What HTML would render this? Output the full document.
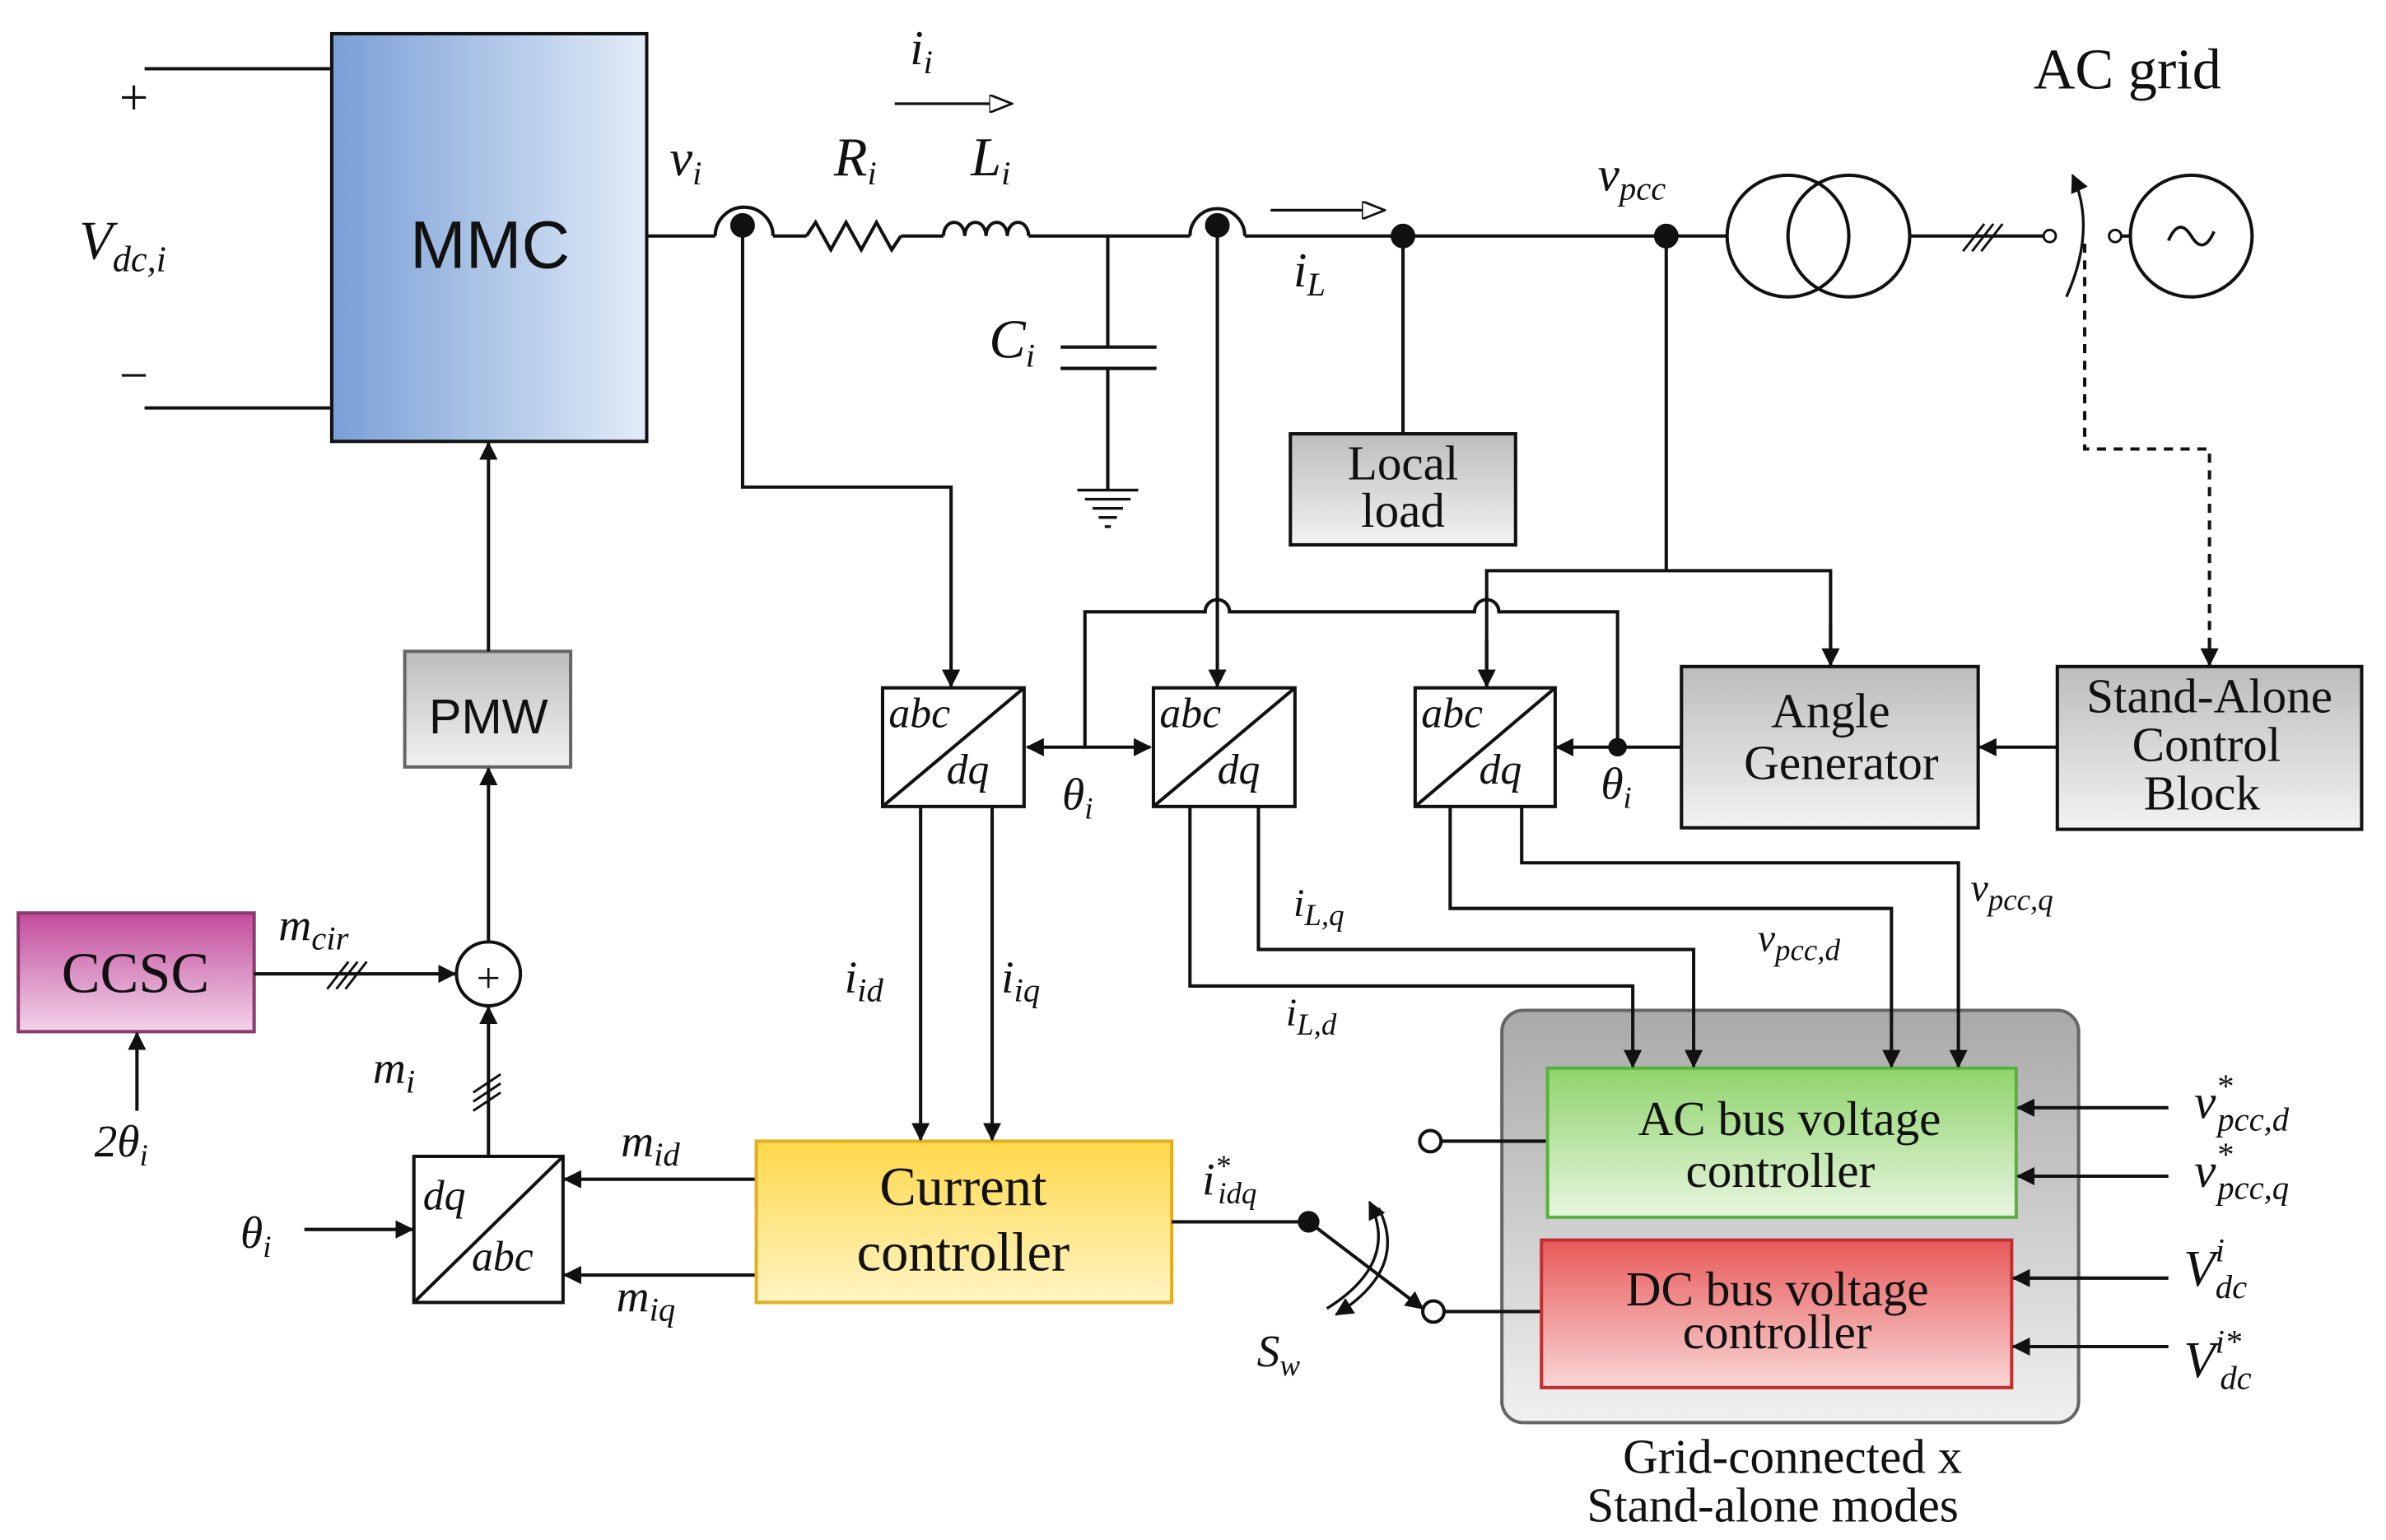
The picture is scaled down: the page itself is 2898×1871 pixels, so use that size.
<!DOCTYPE html>
<html><head><meta charset="utf-8"><style>
html,body{margin:0;padding:0;background:#fff;}
svg{display:block;}
text{font-family:"Liberation Serif",serif;fill:#111;}
.it{font-style:italic;}
.sans{font-family:"Liberation Sans",sans-serif;}
</style></head><body>
<svg width="2898" height="1871" viewBox="0 0 1568 1012" xmlns="http://www.w3.org/2000/svg">
<defs>
<linearGradient id="gB" x1="0" x2="1"><stop offset="0" stop-color="#7a9fd6"/><stop offset="1" stop-color="#e2ecf8"/></linearGradient>
<linearGradient id="gG" x1="0" y1="0" x2="0" y2="1"><stop offset="0" stop-color="#bdbdbd"/><stop offset="1" stop-color="#f2f2f2"/></linearGradient>
<linearGradient id="gP" x1="0" y1="0" x2="0" y2="1"><stop offset="0" stop-color="#c24d9c"/><stop offset="1" stop-color="#f3d4ea"/></linearGradient>
<linearGradient id="gY" x1="0" y1="0" x2="0" y2="1"><stop offset="0" stop-color="#ffd84a"/><stop offset="1" stop-color="#fff4c4"/></linearGradient>
<linearGradient id="gGr" x1="0" y1="0" x2="0" y2="1"><stop offset="0" stop-color="#8fd46c"/><stop offset="1" stop-color="#e8f6e0"/></linearGradient>
<linearGradient id="gR" x1="0" y1="0" x2="0" y2="1"><stop offset="0" stop-color="#e85a5a"/><stop offset="1" stop-color="#f9d6d6"/></linearGradient>
<linearGradient id="gBig" x1="0" y1="0" x2="0" y2="1"><stop offset="0" stop-color="#a9a9a9"/><stop offset="1" stop-color="#f0f0f0"/></linearGradient>
<marker id="a" markerWidth="12" markerHeight="12" refX="11" refY="6" orient="auto" markerUnits="userSpaceOnUse"><path d="M0,0 L12,6 L0,12 z" fill="#111"/></marker>
<marker id="as" markerWidth="12" markerHeight="12" refX="1" refY="6" orient="auto" markerUnits="userSpaceOnUse"><path d="M12,0 L0,6 L12,12 z" fill="#111"/></marker>
<marker id="ao" markerWidth="16" markerHeight="12" refX="15" refY="6" orient="auto" markerUnits="userSpaceOnUse"><path d="M0,0 L15,6 L0,12 z" fill="#fff" stroke="#111" stroke-width="1.5"/></marker>
</defs>
<g stroke="#111" stroke-width="2.2" fill="none">
<rect x="987" y="664" width="379" height="271" rx="14" fill="url(#gBig)" stroke="#666"/>
<line x1="95" y1="45" x2="218" y2="45"/><line x1="95" y1="268" x2="218" y2="268"/>
<rect x="218" y="22" width="207" height="268" fill="url(#gB)"/>
<rect x="266" y="428" width="109" height="76" fill="url(#gG)" stroke="#666"/>
<line x1="321" y1="428" x2="321" y2="291" marker-end="url(#a)"/>
<line x1="321" y1="619" x2="321" y2="505" marker-end="url(#a)"/>
<circle cx="321" cy="640" r="21" fill="#fff"/>
<rect x="12" y="600" width="155" height="78" fill="url(#gP)" stroke="#8a3a70"/>
<line x1="167" y1="640" x2="299" y2="640" marker-end="url(#a)"/>
<path d="M215,650 l14,-18 M221,650 l14,-18 M227,650 l14,-18" stroke-width="1.6"/>
<line x1="90" y1="730" x2="90" y2="679" marker-end="url(#a)"/>
<rect x="272" y="760" width="98" height="96" fill="#fff"/>
<line x1="272" y1="856" x2="370" y2="760"/>
<line x1="321" y1="760" x2="321" y2="662" marker-end="url(#a)"/>
<path d="M311,718 l18,-12 M311,724 l18,-12 M311,730 l18,-12" stroke-width="1.6"/>
<line x1="200" y1="808" x2="271" y2="808" marker-end="url(#a)"/>
<line x1="497" y1="775" x2="371" y2="775" marker-end="url(#a)"/>
<line x1="497" y1="838" x2="371" y2="838" marker-end="url(#a)"/>
<rect x="497" y="750" width="273" height="106" fill="url(#gY)" stroke="#e0b020"/>
<line x1="770" y1="803" x2="860" y2="803"/>
<circle cx="860" cy="803" r="6" fill="#111"/>
<line x1="860" y1="803" x2="935" y2="860" marker-end="url(#a)"/>
<circle cx="940" cy="750" r="7" fill="#fff"/><line x1="947" y1="750" x2="1017" y2="750"/>
<circle cx="942" cy="862" r="7" fill="#fff"/><line x1="949" y1="862" x2="1013" y2="862"/>
<path d="M872,860 Q920,830 900,790" marker-end="url(#a)" stroke-width="1.8"/>
<path d="M900,790 Q920,830 872,860" marker-end="url(#a)" stroke-width="1.8" transform="translate(6,4)"/>
<line x1="425" y1="155" x2="470" y2="155"/>
<path d="M470,155 A19,19 0 0 1 508,155"/>
<circle cx="488" cy="148" r="7" fill="#111"/>
<polyline points="488,148 488,320 625,320 625,451" marker-end="url(#a)"/>
<line x1="508" y1="155" x2="530" y2="155"/>
<polyline points="530,155 536,146 546,164 556,146 566,164 576,146 586,164 592,155"/>
<line x1="592" y1="155" x2="620" y2="155"/>
<path d="M620,155 a7,9 0 0 1 14,0 a7,9 0 0 1 14,0 a7,9 0 0 1 14,0 a7,9 0 0 1 14,0"/>
<line x1="676" y1="155" x2="782" y2="155"/>
<path d="M782,155 A18,18 0 0 1 818,155"/>
<circle cx="800" cy="148" r="7" fill="#111"/>
<line x1="818" y1="155" x2="1135" y2="155"/>
<line x1="835" y1="138" x2="910" y2="138" marker-end="url(#ao)" stroke-width="1.8"/>
<line x1="588" y1="68" x2="665" y2="68" marker-end="url(#ao)" stroke-width="1.8"/>
<line x1="728" y1="155" x2="728" y2="228"/>
<line x1="697" y1="228" x2="760" y2="228"/><line x1="697" y1="242" x2="760" y2="242"/>
<line x1="728" y1="242" x2="728" y2="322"/>
<path d="M708,322 h40 M713,328 h30 M718,334 h20 M722,340 h12 M726,346 h4" stroke-width="1.8"/>
<circle cx="922" cy="155" r="7" fill="#111"/>
<line x1="922" y1="155" x2="922" y2="285"/>
<rect x="848" y="285" width="148" height="73" fill="url(#gG)"/>
<circle cx="1095" cy="155" r="7" fill="#111"/>
<line x1="1095" y1="155" x2="1095" y2="375"/>
<polyline points="977,451 977,375 1203,375 1203,437" />
<line x1="977" y1="420" x2="977" y2="451" marker-end="url(#a)"/>
<line x1="1203" y1="410" x2="1203" y2="437" marker-end="url(#a)"/>
<circle cx="1175" cy="155" r="40"/><circle cx="1215" cy="155" r="40"/>
<line x1="1255" y1="155" x2="1343" y2="155"/>
<path d="M1290,165 l14,-18 M1296,165 l14,-18 M1302,165 l14,-18" stroke-width="1.6"/>
<circle cx="1347" cy="155" r="4" fill="#fff" stroke-width="1.6"/>
<circle cx="1390" cy="155" r="4" fill="#fff" stroke-width="1.6"/>
<line x1="1394" y1="155" x2="1400" y2="155"/>
<path d="M1358,195 Q1378,150 1362,115" stroke-width="1.8" marker-end="url(#a)"/>
<circle cx="1440" cy="155" r="40"/>
<path d="M1425,158 q7,-16 15,-3 q8,13 15,-3" stroke-width="2"/>
<polyline points="1370,160 1370,295 1452,295 1452,437" stroke-dasharray="6,5"/>
<line x1="1452" y1="420" x2="1452" y2="437" marker-end="url(#a)"/>
<rect x="580" y="452" width="93" height="78" fill="#fff"/><line x1="580" y1="530" x2="673" y2="452"/>
<rect x="758" y="452" width="93" height="78" fill="#fff"/><line x1="758" y1="530" x2="851" y2="452"/>
<rect x="930" y="452" width="92" height="78" fill="#fff"/><line x1="930" y1="530" x2="1022" y2="452"/>
<line x1="800" y1="155" x2="800" y2="451" marker-end="url(#a)"/>
<path d="M713,491 V402 H792 A8,8 0 0 1 808,402 H969 A8,8 0 0 1 985,402 H1063 V491"/>
<line x1="675" y1="491" x2="756" y2="491" marker-start="url(#as)" marker-end="url(#a)"/>
<circle cx="1063" cy="491" r="5" fill="#111"/>
<line x1="1105" y1="491" x2="1023" y2="491" marker-end="url(#a)"/>
<rect x="1105" y="438" width="195" height="106" fill="url(#gG)"/>
<rect x="1352" y="438" width="200" height="107" fill="url(#gG)"/>
<line x1="1352" y1="491" x2="1301" y2="491" marker-end="url(#a)"/>
<line x1="605" y1="530" x2="605" y2="749" marker-end="url(#a)"/>
<line x1="652" y1="530" x2="652" y2="749" marker-end="url(#a)"/>
<rect x="1017" y="702" width="308" height="98" fill="url(#gGr)" stroke="#5cb040"/>
<rect x="1013" y="815" width="309" height="97" fill="url(#gR)" stroke="#c03030"/>
<polyline points="782,530 782,648 1073,648 1073,701" marker-end="url(#a)"/>
<polyline points="827,530 827,624 1113,624 1113,701" marker-end="url(#a)"/>
<polyline points="953,530 953,597 1243,597 1243,701" marker-end="url(#a)"/>
<polyline points="1000,530 1000,567 1287,567 1287,701" marker-end="url(#a)"/>
<line x1="1425" y1="728" x2="1326" y2="728" marker-end="url(#a)"/>
<line x1="1425" y1="773" x2="1326" y2="773" marker-end="url(#a)"/>
<line x1="1425" y1="840" x2="1323" y2="840" marker-end="url(#a)"/>
<line x1="1425" y1="885" x2="1323" y2="885" marker-end="url(#a)"/>
</g>
<text x="322" y="176" class="sans" font-size="44" text-anchor="middle" fill="#111">MMC</text>
<text x="321" y="482" class="sans" font-size="32" text-anchor="middle">PMW</text>
<text x="89" y="652" font-size="38" text-anchor="middle">CCSC</text>
<text x="321" y="652" font-size="28" text-anchor="middle">+</text>
<text x="88" y="75" font-size="34" text-anchor="middle">+</text>
<text x="88" y="258" font-size="34" text-anchor="middle">−</text>
<text x="52" y="170" font-size="36" class="it">V<tspan font-size="24" dy="8">dc,i</tspan></text>
<text x="440" y="115" font-size="34" class="it">v<tspan font-size="22" dy="6">i</tspan></text>
<text x="598" y="42" font-size="32" class="it">i<tspan font-size="22" dy="6">i</tspan></text>
<text x="548" y="115" font-size="36" class="it">R<tspan font-size="22" dy="6">i</tspan></text>
<text x="638" y="115" font-size="36" class="it">L<tspan font-size="22" dy="6">i</tspan></text>
<text x="650" y="235" font-size="36" class="it">C<tspan font-size="22" dy="6">i</tspan></text>
<text x="850" y="188" font-size="32" class="it">i<tspan font-size="22" dy="6">L</tspan></text>
<text x="1050" y="125" font-size="32" class="it">v<tspan font-size="22" dy="6">pcc</tspan></text>
<text x="1398" y="58" font-size="38" text-anchor="middle">AC grid</text>
<text x="922" y="315" font-size="32" text-anchor="middle">Local</text>
<text x="922" y="346" font-size="32" text-anchor="middle">load</text>
<text x="1203" y="478" font-size="32" text-anchor="middle">Angle</text>
<text x="1210" y="512" font-size="32" text-anchor="middle">Generator</text>
<text x="1452" y="468" font-size="32" text-anchor="middle">Stand-Alone</text>
<text x="1450" y="500" font-size="32" text-anchor="middle">Control</text>
<text x="1447" y="532" font-size="32" text-anchor="middle">Block</text>
<g font-size="28">
<text x="584" y="478" class="it">abc</text><text x="622" y="515" class="it">dq</text>
<text x="762" y="478" class="it">abc</text><text x="800" y="515" class="it">dq</text>
<text x="934" y="478" class="it">abc</text><text x="972" y="515" class="it">dq</text>
<text x="278" y="795" class="it">dq</text><text x="310" y="835" class="it">abc</text>
</g>
<text x="698" y="532" font-size="30" class="it">θ<tspan font-size="20" dy="6">i</tspan></text>
<text x="1052" y="525" font-size="30" class="it">θ<tspan font-size="20" dy="6">i</tspan></text>
<text x="158" y="820" font-size="30" class="it">θ<tspan font-size="20" dy="6">i</tspan></text>
<text x="62" y="760" font-size="30" class="it">2θ<tspan font-size="20" dy="6">i</tspan></text>
<text x="183" y="618" font-size="30" class="it">m<tspan font-size="22" dy="6">cir</tspan></text>
<text x="245" y="712" font-size="30" class="it">m<tspan font-size="22" dy="6">i</tspan></text>
<text x="408" y="760" font-size="30" class="it">m<tspan font-size="22" dy="6">id</tspan></text>
<text x="405" y="862" font-size="30" class="it">m<tspan font-size="22" dy="6">iq</tspan></text>
<text x="555" y="652" font-size="30" class="it">i<tspan font-size="22" dy="6">id</tspan></text>
<text x="658" y="652" font-size="30" class="it">i<tspan font-size="22" dy="6">iq</tspan></text>
<text x="850" y="602" font-size="26" class="it">i<tspan font-size="20" dy="6">L,q</tspan></text>
<text x="845" y="674" font-size="26" class="it">i<tspan font-size="20" dy="6">L,d</tspan></text>
<text x="1155" y="625" font-size="26" class="it">v<tspan font-size="20" dy="6">pcc,d</tspan></text>
<text x="1295" y="592" font-size="26" class="it">v<tspan font-size="20" dy="6">pcc,q</tspan></text>
<text x="790" y="785" font-size="30" class="it">i<tspan font-size="20" dy="-12">*</tspan><tspan font-size="20" dx="-8" dy="18">idq</tspan></text>
<text x="826" y="898" font-size="30" class="it">S<tspan font-size="20" dy="6">w</tspan></text>
<text x="633" y="792" font-size="36" text-anchor="middle">Current</text>
<text x="633" y="835" font-size="36" text-anchor="middle">controller</text>
<text x="1176" y="746" font-size="32" text-anchor="middle">AC bus voltage</text>
<text x="1170" y="780" font-size="32" text-anchor="middle">controller</text>
<text x="1168" y="858" font-size="32" text-anchor="middle">DC bus voltage</text>
<text x="1168" y="886" font-size="32" text-anchor="middle">controller</text>
<text x="1178" y="968" font-size="32" text-anchor="middle">Grid-connected x</text>
<text x="1165" y="1000" font-size="32" text-anchor="middle">Stand-alone modes</text>
<text x="1442" y="735" font-size="32" class="it">v<tspan font-size="22" dy="-14">*</tspan><tspan font-size="22" dx="-10" dy="22">pcc,d</tspan></text>
<text x="1442" y="780" font-size="32" class="it">v<tspan font-size="22" dy="-14">*</tspan><tspan font-size="22" dx="-10" dy="22">pcc,q</tspan></text>
<text x="1435" y="845" font-size="34" class="it">V<tspan font-size="22" dy="-16">i</tspan><tspan font-size="22" dx="-6" dy="24">dc</tspan></text>
<text x="1435" y="905" font-size="34" class="it">V<tspan font-size="22" dy="-16">i*</tspan><tspan font-size="22" dx="-14" dy="24">dc</tspan></text>
</svg>
</body></html>
